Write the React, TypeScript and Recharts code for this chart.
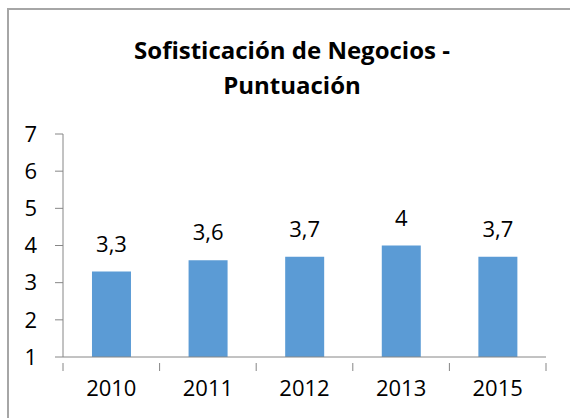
import { BarChart, Bar, XAxis, YAxis, LabelList } from "recharts";

const years = ["2010", "2011", "2012", "2013", "2015"];
const scores = [3.3, 3.6, 3.7, 4, 3.7];
const yTicks = [1, 2, 3, 4, 5, 6, 7];

const data = years.map((year, i) => ({ year, score: scores[i] }));

const FONT = "'Open Sans', sans-serif";
const AXIS = "#868686";

function YearTick(props: any) {
  const { x, y, payload, index, visibleTicksCount } = props;
  const half = payload.offset || 0;
  const last = index === visibleTicksCount - 1;
  return (
    <g>
      <line x1={x - half} x2={x - half} y1={y - 18} y2={y - 10} stroke={AXIS} />
      {last && <line x1={x + half} x2={x + half} y1={y - 18} y2={y - 10} stroke={AXIS} />}
      <text x={x} y={y} dy={15} textAnchor="middle" fontSize={22} fontFamily={FONT} fill="#000">
        {payload.value}
      </text>
    </g>
  );
}

export default function App() {
  return (
    <div style={{ position: "absolute", left: 0, top: 0, width: 570, height: 418, background: "#fff", overflow: "hidden" }}>
      <div
        style={{
          position: "absolute",
          left: 7,
          top: 8,
          width: 600,
          height: 440,
          border: "2px solid #a6a6a6",
          boxSizing: "border-box",
        }}
      />
      <div
        style={{
          position: "absolute",
          left: 42,
          top: 32,
          width: 500,
          textAlign: "center",
          fontFamily: FONT,
          fontWeight: 700,
          fontSize: 24,
          lineHeight: "35px",
          color: "#000",
        }}
      >
        Sofisticación de Negocios -<br />
        Puntuación
      </div>
      <div style={{ position: "absolute", left: 0, top: 0 }}>
        <BarChart width={570} height={418} data={data} margin={{ top: 134, right: 24, bottom: 0, left: 0 }} barCategoryGap="30%">
          <XAxis
            dataKey="year"
            height={61}
            stroke={AXIS}
            tickLine={false}
            tickMargin={18}
            tick={<YearTick />}
            interval={0}
          />
          <YAxis
            domain={[1, 7]}
            ticks={yTicks}
            width={63}
            stroke={AXIS}
            tickSize={8}
            tickMargin={18}
            tick={{ fontSize: 22, fontFamily: FONT, fill: "#000" }}
            interval={0}
          />
          <Bar dataKey="score" fill="#5B9BD5" isAnimationActive={false}>
            <LabelList
              dataKey="score"
              position="top"
              offset={20}
              fontSize={22}
              fontFamily={FONT}
              fill="#000"
              formatter={(v: any) => String(v).replace(".", ",")}
            />
          </Bar>
        </BarChart>
      </div>
    </div>
  );
}
